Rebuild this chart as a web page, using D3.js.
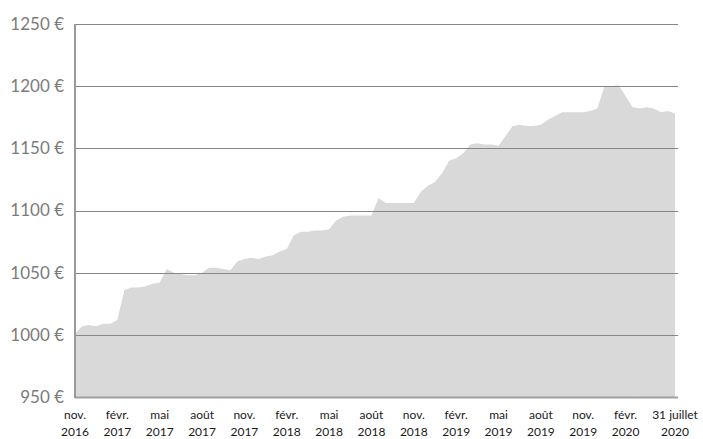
<!DOCTYPE html>
<html>
<head>
<meta charset="utf-8">
<script src="https://cdn.jsdelivr.net/npm/d3@7"></script>
<style>
  body { margin: 0; background: #fff; }
  svg { display: block; }
  .ylab { font-family: Lato, "Open Sans", sans-serif; font-size: 17px; fill: #7b7b7b; }
  .xlab { font-family: Lato, "Open Sans", sans-serif; font-size: 12px; fill: #1a1a1a; }
</style>
</head>
<body>
<svg></svg>
<script>
    //-------------------
    // DATA
    //-------------------
    // one value every half month, from nov. 2016 to 31 juillet 2020
    var values = [
        1001, 1007, 1008, 1007, 1009, 1009, 1012, 1036, 1038, 1038,
        1039, 1041, 1042, 1053, 1050, 1049, 1048, 1048, 1050, 1054,
        1054, 1053, 1052, 1059, 1061, 1062, 1061, 1063, 1064, 1067,
        1069, 1080, 1083, 1083, 1084, 1084, 1085, 1092, 1095, 1096,
        1096, 1096, 1096, 1110, 1106, 1106, 1106, 1106, 1106, 1115,
        1120, 1123, 1130, 1140, 1142, 1146, 1153, 1154, 1153, 1153,
        1152, 1160, 1168, 1169, 1168, 1168, 1169, 1173, 1176, 1179,
        1179, 1179, 1179, 1180, 1182, 1200, 1200, 1201, 1192, 1183,
        1182, 1183, 1182, 1179, 1180, 1178
    ];

    var tickIndex = [0, 6, 12, 18, 24, 30, 36, 42, 48, 54, 60, 66, 72, 78, 85];
    var tickLine1 = ["nov.", "févr.", "mai", "août", "nov.", "févr.", "mai", "août",
                     "nov.", "févr.", "mai", "août", "nov.", "févr.", "31 juillet"];
    var tickLine2 = ["2016", "2017", "2017", "2017", "2017", "2018", "2018", "2018",
                     "2018", "2019", "2019", "2019", "2019", "2020", "2020"];

    var yTicks = [950, 1000, 1050, 1100, 1150, 1200, 1250];

    //-------------------
    // LAYOUT
    //-------------------
    var width = 703, height = 439;
    var plot = { left: 75, right: 678, top: 24, bottom: 397 };

    var svg = d3.select("svg")
        .attr("width", width)
        .attr("height", height);

    var x = d3.scaleLinear()
        .domain([0, values.length - 1])
        .range([plot.left, 675]);

    var y = d3.scaleLinear()
        .domain([950, 1250])
        .range([plot.bottom, plot.top]);

    //-------------------
    // AREA
    //-------------------
    var area = d3.area()
        .x((d, i) => x(i))
        .y0(y(950))
        .y1(d => y(d));

    svg.append("path")
        .datum(values)
        .attr("fill", "#d9d9d9")
        .attr("d", area);

    //-------------------
    // GRID + AXES
    //-------------------
    svg.selectAll("line.grid").data(yTicks)
        .enter()
        .append("line")
        .attr("class", "grid")
        .attr("x1", plot.left)
        .attr("x2", plot.right)
        .attr("y1", d => Math.round(y(d)) + 0.5)
        .attr("y2", d => Math.round(y(d)) + 0.5)
        .attr("stroke", d => d === 950 ? "#a0a0a0" : "#878787")
        .attr("stroke-width", d => d === 950 ? 2 : 1);

    svg.append("line")
        .attr("x1", plot.left)
        .attr("x2", plot.left)
        .attr("y1", plot.top)
        .attr("y2", plot.bottom + 1)
        .attr("stroke", "#9a9a9a")
        .attr("stroke-width", 2);

    svg.selectAll("text.ylab").data(yTicks)
        .enter()
        .append("text")
        .attr("class", "ylab")
        .attr("x", 64)
        .attr("y", d => y(d))
        .attr("dy", "0.35em")
        .attr("text-anchor", "end")
        .text(d => d + " €");

    var xl = svg.selectAll("g.xlab").data(tickIndex)
        .enter()
        .append("g")
        .attr("transform", d => "translate(" + x(d) + ",0)");

    xl.append("text")
        .attr("class", "xlab")
        .attr("y", 419)
        .attr("text-anchor", "middle")
        .text((d, i) => tickLine1[i]);

    xl.append("text")
        .attr("class", "xlab")
        .attr("y", 436)
        .attr("text-anchor", "middle")
        .text((d, i) => tickLine2[i]);
</script>
</body>
</html>
